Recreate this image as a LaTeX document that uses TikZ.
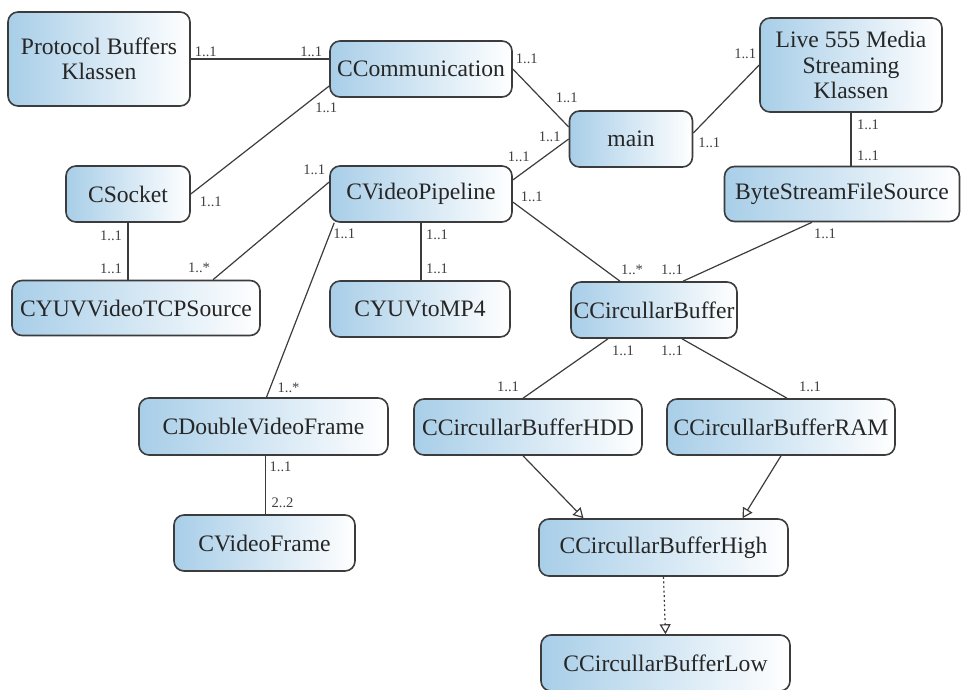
\documentclass[tikz,border=0pt]{standalone}
\usepackage{fontspec}
\setmainfont{Liberation Serif}
\usepackage{tikz}
\usepackage{xcolor}
\usetikzlibrary{arrows.meta}

\definecolor{klassenblau}{RGB}{168,206,232}
\definecolor{rahmengrau}{RGB}{60,60,60}

\tikzset{
	klasse/.style={draw=rahmengrau, line width=0.8pt, rounded corners=5pt, left color=klassenblau, right color=white, text=black!85, font=\fontsize{11.8}{12.6}\selectfont, align=center, inner sep=0pt},
	verbindung/.style={draw=rahmengrau, line width=0.6pt},
	mult/.style={text=black!75, font=\fontsize{7.3}{8}\selectfont, inner sep=0.5pt},
	erbt/.style={verbindung, -{Triangle[open, length=5pt, width=5.5pt]}}
}

\begin{document}
\begin{tikzpicture}[x=0.5pt, y=-0.5pt]
			\useasboundingbox (0,0) rectangle (969,690);
			\node[klasse, minimum width=91pt, minimum height=47pt] (proto) at (99,59) {Protocol Buffers\\Klassen};
			\node[klasse, minimum width=91pt, minimum height=28pt] (comm) at (421,69) {CCommunication};
			\node[klasse, minimum width=61.5pt, minimum height=28pt] (main) at (631,139) {main};
			\node[klasse, minimum width=91pt, minimum height=47pt] (live) at (851,65) {Live 555 Media\\Streaming\\Klassen};
			\node[klasse, minimum width=62pt, minimum height=28pt] (sock) at (128,194) {CSocket};
			\node[klasse, minimum width=91pt, minimum height=28pt] (pipe) at (421,194) {CVideoPipeline};
			\node[klasse, minimum width=117.5pt, minimum height=27.5pt] (bsfs) at (842,194) {ByteStreamFileSource};
			\node[klasse, minimum width=124pt, minimum height=27.5pt] (tcp) at (136,308) {CYUVVideoTCPSource};
			\node[klasse, minimum width=90pt, minimum height=28pt] (mp4) at (420,309) {CYUVtoMP4};
			\node[klasse, minimum width=83pt, minimum height=28pt] (circ) at (654,310) {CCircullarBuffer};
			\node[klasse, minimum width=124.5pt, minimum height=28.5pt] (dvf) at (263.5,426.5) {CDoubleVideoFrame};
			\node[klasse, minimum width=114pt, minimum height=28pt] (hdd) at (528,427) {CCircullarBufferHDD};
			\node[klasse, minimum width=114pt, minimum height=28pt] (ram) at (781,427) {CCircullarBufferRAM};
			\node[klasse, minimum width=90.5pt, minimum height=28pt] (vf) at (264.5,543) {CVideoFrame};
			\node[klasse, minimum width=124.5pt, minimum height=28.5pt] (high) at (663.5,547.5) {CCircullarBufferHigh};
			\node[klasse, minimum width=124.5pt, minimum height=28pt] (low) at (665.5,663) {CCircullarBufferLow};

			\draw[verbindung] (proto.east) -- (proto.east -| comm.west)
				node[mult, pos=0, xshift=7.5pt, yshift=3.5pt] {1..1}
				node[mult, pos=1, xshift=-9pt, yshift=3.5pt] {1..1};
			\draw[verbindung] (sock.east) -- ([yshift=-8.5pt]comm.west)
				node[mult, pos=0, xshift=10pt, yshift=-4pt] {1..1}
				node[mult, pos=1, xshift=-1.5pt, yshift=-11pt] {1..1};
			\draw[verbindung] (comm.east) -- ([yshift=6pt]main.west)
				node[mult, pos=0, xshift=7pt, yshift=5pt] {1..1}
				node[mult, pos=1, xshift=-1pt, yshift=14.5pt] {1..1};
			\draw[verbindung] ([yshift=3pt]main.east) -- (live.west)
				node[mult, pos=0, xshift=8pt, yshift=-5pt] {1..1}
				node[mult, pos=1, xshift=-7pt, yshift=5.5pt] {1..1};
			\draw[verbindung] (main.west) -- ([yshift=7pt]pipe.east)
				node[mult, pos=0, xshift=-9.5pt, yshift=1pt] {1..1}
				node[mult, pos=1, xshift=3pt, yshift=11.5pt] {1..1};
			\draw[verbindung] (live.south) -- (live.south |- bsfs.north)
				node[mult, pos=0, xshift=8.5pt, yshift=-6pt] {1..1}
				node[mult, pos=1, xshift=8.5pt, yshift=5pt] {1..1};
			\draw[verbindung] (sock.south) -- (sock.south |- tcp.north)
				node[mult, pos=0, xshift=-8.5pt, yshift=-6.5pt] {1..1}
				node[mult, pos=1, xshift=-8.5pt, yshift=5.5pt] {1..1};
			\draw[verbindung] ([yshift=6pt]pipe.west) -- ([xshift=38.5pt]tcp.north)
				node[mult, pos=0, xshift=-7.5pt, yshift=6pt] {1..1}
				node[mult, pos=1, xshift=-7pt, yshift=6pt] {1..*};
			\draw[verbindung] ([xshift=2.5pt]pipe.south west) -- ([xshift=1.5pt]dvf.north)
				node[mult, pos=0, xshift=5pt, yshift=-5.5pt] {1..1}
				node[mult, pos=1, xshift=11pt, yshift=4.5pt] {1..*};
			\draw[verbindung] (pipe.south) -- (pipe.south |- mp4.north)
				node[mult, pos=0, xshift=8pt, yshift=-6pt] {1..1}
				node[mult, pos=1, xshift=8pt, yshift=5.5pt] {1..1};
			\draw[verbindung] ([yshift=-4pt]pipe.east) -- ([xshift=-17pt]circ.north)
				node[mult, pos=0, xshift=9.5pt, yshift=2.5pt] {1..1}
				node[mult, pos=1, xshift=6pt, yshift=5.5pt] {1..*};
			\draw[verbindung] ([xshift=-15pt]bsfs.south) -- ([xshift=14.5pt]circ.north)
				node[mult, pos=0, xshift=6.5pt, yshift=-5.5pt] {1..1}
				node[mult, pos=1, xshift=-5.5pt, yshift=5.5pt] {1..1};
			\draw[verbindung] ([xshift=-23pt]circ.south) -- ([xshift=-2.5pt]hdd.north)
				node[mult, pos=0, xshift=7.5pt, yshift=-6pt] {1..1}
				node[mult, pos=1, xshift=-7.5pt, yshift=5.5pt] {1..1};
			\draw[verbindung] ([xshift=14pt]circ.south) -- ([xshift=3pt]ram.north)
				node[mult, pos=0, xshift=-5pt, yshift=-6pt] {1..1}
				node[mult, pos=1, xshift=11.5pt, yshift=5.5pt] {1..1};
			\draw[verbindung] ([xshift=1pt]dvf.south) -- ([xshift=1pt]dvf.south |- vf.north)
				node[mult, pos=0, xshift=7.5pt, yshift=-5.5pt] {1..1}
				node[mult, pos=1, xshift=8.5pt, yshift=5.5pt] {2..2};
			\draw[erbt] ([xshift=-2.5pt]hdd.south) -- ([xshift=-40pt]high.north);
			\draw[erbt] (ram.south) -- ([xshift=39.5pt]high.north);
			\draw[erbt, dash pattern=on 1pt off 1.3pt] (high.south) -- (low.north);
		\end{tikzpicture}
\end{document}
